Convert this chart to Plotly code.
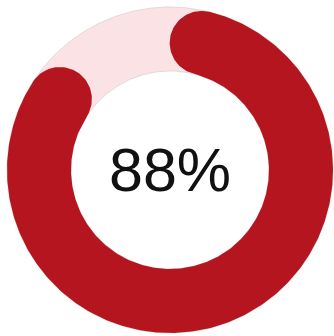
import numpy as np
import plotly.graph_objects as go

# Data
labels = ["Completed", "Remaining"]
values = [88, 12]
center_text = f"{values[0]}%"

# Styling
red = "#b5151f"
pink = "#fbe3e5"
R_OUT, R_IN = 163, 99
R_MID = (R_OUT + R_IN) / 2
HALF = (R_OUT - R_IN) / 2


def pt(r, theta_deg, cx=0.0, cy=0.0):
    t = np.radians(theta_deg)
    return cx + r * np.sin(t), cy + r * np.cos(t)


def ring(r1, r2, n=400):
    th = np.linspace(0, 360, n)
    xo, yo = pt(r1, th)
    xi, yi = pt(r2, th[::-1])
    x = np.concatenate([xo, [None], xi])
    y = np.concatenate([yo, [None], yi])
    return x, y


def rounded_arc(frac):
    total = 360 * frac
    d = np.degrees(HALF / R_MID)
    a, b = d, total - d
    th = np.linspace(a, b, 400)
    xo, yo = pt(R_OUT, th)
    cbx, cby = pt(R_MID, b)
    cap_b = np.linspace(b, b + 180, 60)
    xb, yb = pt(HALF, cap_b, cbx, cby)
    xi, yi = pt(R_IN, th[::-1])
    cax, cay = pt(R_MID, a)
    cap_a = np.linspace(a + 180, a + 360, 60)
    xa, ya = pt(HALF, cap_a, cax, cay)
    x = np.concatenate([xo, xb, xi, xa])
    y = np.concatenate([yo, yb, yi, ya])
    return x, y


fig = go.Figure()
tx, ty = ring(R_OUT, R_IN)
fig.add_trace(go.Scatter(x=tx, y=ty, fill="toself", fillcolor=pink, mode="lines",
                         line=dict(width=0.6, color="#d9c6c8"), name=labels[1],
                         hoverinfo="skip"))
ax_, ay_ = rounded_arc(values[0] / sum(values))
fig.add_trace(go.Scatter(x=ax_, y=ay_, fill="toself", fillcolor=red, mode="lines",
                         line=dict(width=0, color=red), name=labels[0],
                         hoverinfo="skip"))

fig.add_annotation(x=0, y=0, text=center_text, showarrow=False,
                   font=dict(family="Liberation Sans, Arial, sans-serif", size=61, color="#111111"),
                   xanchor="center", yanchor="middle")

fig.update_layout(
    width=334, height=336, autosize=False,
    margin=dict(l=0, r=0, t=0, b=0),
    paper_bgcolor="white", plot_bgcolor="white",
    showlegend=False,
    xaxis=dict(range=[-170, 164], visible=False, fixedrange=True),
    yaxis=dict(range=[-166, 170], visible=False, fixedrange=True),
)

fig.write_html("out.html")
